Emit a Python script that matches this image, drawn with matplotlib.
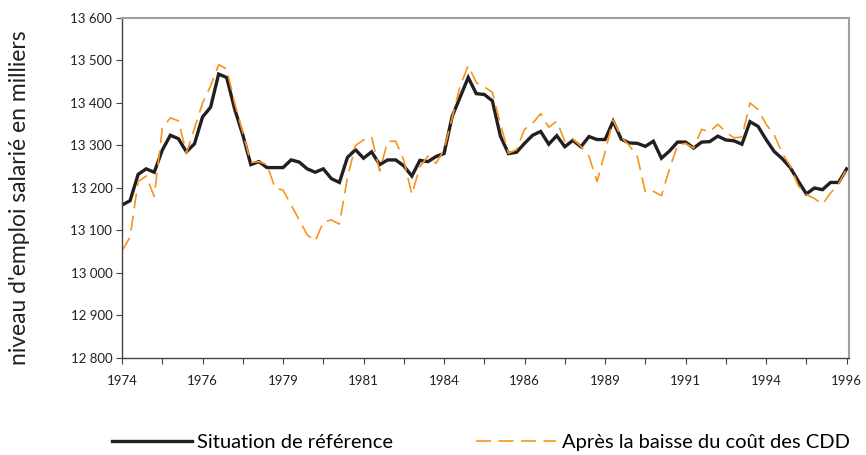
import matplotlib
matplotlib.use("Agg")
import matplotlib.pyplot as plt
from matplotlib.ticker import FixedLocator, FuncFormatter

plt.rcParams['font.family'] = ['Lato', 'DejaVu Sans']

# trimestres 1974T1 .. 1996T3
year_labels = ["1974", "1976", "1979", "1981", "1984", "1986", "1989", "1991", "1994", "1996"]

reference = [
    13160, 13170, 13232, 13245, 13237, 13289, 13324, 13316, 13285, 13304,
    13367, 13390, 13468, 13460, 13385, 13325, 13255, 13262, 13248, 13248,
    13248, 13266, 13261, 13245, 13237, 13245, 13222, 13213, 13272, 13290,
    13270, 13285, 13255, 13266, 13266, 13252, 13228, 13265, 13262, 13274,
    13281, 13368, 13414, 13460, 13422, 13420, 13405, 13322, 13281, 13284,
    13305, 13324, 13333, 13303, 13323, 13297, 13312, 13297, 13321, 13314,
    13314, 13357, 13315, 13306, 13305, 13298, 13310, 13270, 13287, 13308,
    13308, 13294, 13308, 13309, 13322, 13313, 13311, 13303, 13356, 13345,
    13314, 13286, 13269, 13248, 13216, 13186, 13200, 13196, 13213, 13213,
    13245,
]

baisse_cdd = [
    13052, 13085, 13215, 13228, 13180, 13340, 13365, 13358, 13282, 13340,
    13400, 13440, 13490, 13480, 13400, 13330, 13260, 13262, 13255, 13200,
    13195, 13160, 13125, 13090, 13075, 13120, 13125, 13115, 13225, 13300,
    13313, 13320, 13240, 13310, 13310, 13265, 13185, 13250, 13275, 13258,
    13290, 13365, 13440, 13488, 13448, 13438, 13425, 13350, 13282, 13290,
    13338, 13352, 13375, 13343, 13357, 13310, 13315, 13298, 13275, 13215,
    13285, 13360, 13320, 13300, 13275, 13190, 13192, 13182, 13245, 13300,
    13305, 13294, 13338, 13332, 13350, 13332, 13318, 13320, 13400, 13385,
    13350, 13325, 13282, 13252, 13205, 13185, 13175, 13162, 13188, 13210,
    13245,
]

x = list(range(len(reference)))

fig = plt.figure(figsize=(8.66, 4.55), dpi=100)
ax = fig.add_axes([0.1409, 0.2132, 0.8395, 0.7473])

ax.plot(x, reference, color="#231F20", lw=2.4, solid_joinstyle="miter",
        label="Situation de référence")
ax.plot(x, baisse_cdd, color="#F7941D", lw=1.2, linestyle=(0, (9, 4.5)),
        label="Après la baisse du coût des CDD")

ax.set_xlim(0, 90.3)
ax.set_ylim(12800, 13600)
ax.set_yticks(range(12800, 13601, 100))
ax.yaxis.set_major_formatter(FuncFormatter(lambda v, p: f"{int(v):,}".replace(",", " ")))

ax.xaxis.set_major_locator(FixedLocator(range(0, 91, 10)))
ax.set_xticklabels(year_labels)
ax.xaxis.set_minor_locator(FixedLocator(range(5, 91, 10)))

ax.tick_params(axis="both", which="both", direction="out", length=4, width=0.8,
               color="#444444", labelsize=9.5, labelcolor="#231F20")
ax.tick_params(axis="x", pad=8)
ax.tick_params(axis="y", pad=3)

for s in ["left", "bottom"]:
    ax.spines[s].set_color("#444444")
    ax.spines[s].set_linewidth(1.0)
for s in ["top", "right"]:
    ax.spines[s].set_color("#A0A0A0")
    ax.spines[s].set_linewidth(1.5)

ax.set_ylabel("niveau d'emploi salarié en milliers", fontsize=16.5, color="#231F20")
ax.yaxis.set_label_coords(-0.126, 0.47)

fig.legend(loc="center", bbox_to_anchor=(0.555, 0.027), ncol=2, frameon=False,
           fontsize=14.5, handlelength=4.0, handletextpad=0.25, columnspacing=4.1)

fig.savefig("out.png", dpi=100)
